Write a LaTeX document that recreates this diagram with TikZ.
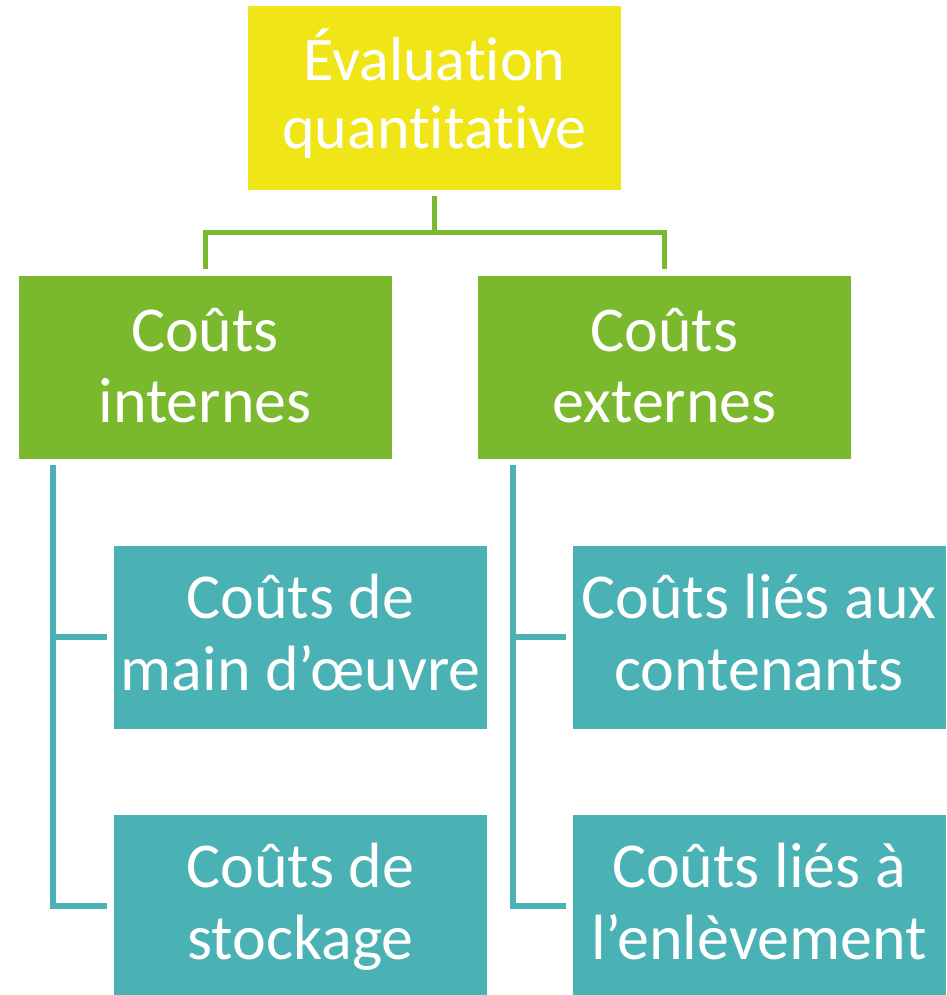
\documentclass[tikz,border=0pt]{standalone}
\usepackage{fontspec}
\setmainfont{Carlito}[Ligatures=NoCommon]
\usetikzlibrary{calc}
\definecolor{cyellow}{HTML}{F0E517}
\definecolor{cgreen}{HTML}{7AB82D}
\definecolor{cteal}{HTML}{4AB1B4}
\tikzset{
  boxbase/.style={rectangle, inner sep=0pt, text=white, align=center,
    minimum width=373pt, minimum height=183pt, text depth=0pt},
  topbox/.style={boxbase, fill=cyellow, font=\fontsize{62}{68}\selectfont, minimum height=184pt, text height=102pt},
  grnbox/.style={boxbase, fill=cgreen, font=\fontsize{64}{71}\selectfont, text height=109pt},
  tealbox/.style={boxbase, fill=cteal, font=\fontsize{64}{72}\selectfont, text height=106pt},
  gline/.style={draw=cgreen, line width=5pt},
  tline/.style={draw=cteal, line width=5.5pt}
}
\begin{document}
\begin{tikzpicture}[x=1pt,y=-1pt]
\useasboundingbox (0,0) rectangle (946,995);
\node[topbox] (top) at (434.5,98) {Évaluation\\quantitative};
\node[grnbox] (gL) at (205,367.5) {Coûts\\internes};
\node[grnbox] (gR) at (664.5,367.5) {Coûts\\externes};
\node[tealbox] (tL1) at (300.5,637) {Coûts de\\main d’œuvre};
\node[tealbox] (tL2) at (300.5,906) {Coûts de\\stockage};
\node[tealbox] (tR1) at (759,637) {Coûts liés aux\\contenants};
\node[tealbox] (tR2) at (759,906) {Coûts liés à\\l’enlèvement};
% green connectors
\coordinate (hub) at ([yshift=-42.5pt]top.south);
\draw[gline] ([yshift=-6pt]top.south) -- (hub);
\draw[gline] ([yshift=7pt]gL.north) |- (hub) -| ([yshift=7pt]gR.north);
% teal connectors
\coordinate (vL) at ([xshift=-152pt,yshift=-6pt]gL.south);
\coordinate (vR) at ([xshift=-151.5pt,yshift=-6pt]gR.south);
\draw[tline] (vL) |- ([xshift=-7pt]tL2.west);
\draw[tline] (vL |- tL1.west) -- ([xshift=-7pt]tL1.west);
\draw[tline] (vR) |- ([xshift=-6pt]tR2.west);
\draw[tline] (vR |- tR1.west) -- ([xshift=-6pt]tR1.west);
\end{tikzpicture}
\end{document}
